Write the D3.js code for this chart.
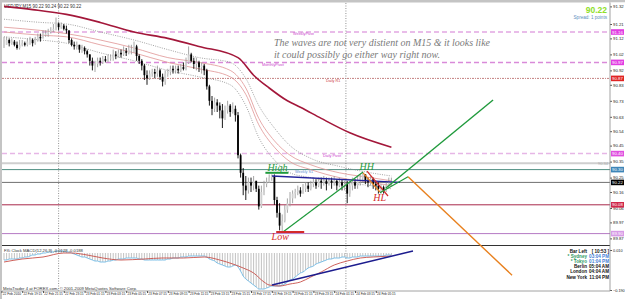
<!DOCTYPE html>
<html>
<head>
<meta charset="utf-8">
<title>USDJPY,M15</title>
<script src="https://d3js.org/d3.v7.min.js"></script>
<style>
  body { margin: 0; background: #fff; }
  svg { display: block; font-family: "Liberation Sans", "DejaVu Sans", sans-serif; }
</style>
</head>
<body>
<svg id="chart"></svg>
<script>
// ---- data ----
// M15 candles, the open of each bar is the close of the one before
var firstOpen = 91.07;
var closes = [
  91.08, 91.11, 91.09, 91.10, 91.08, 91.06, 91.08, 91.09, 91.08, 91.10,
  91.11, 91.09, 91.11, 91.13, 91.12, 91.14, 91.15, 91.16, 91.17, 91.18,
  91.21, 91.19, 91.20, 91.18, 91.17, 91.11, 91.08, 91.07, 91.08, 91.05,
  91.06, 91.04, 91.02, 90.98, 90.95, 90.96, 90.98, 90.97, 90.99, 90.98,
  91.00, 91.00, 91.02, 91.01, 91.03, 91.02, 91.04, 91.03, 91.05, 91.05,
  91.07, 91.01, 90.98, 90.95, 90.89, 90.87, 90.90, 90.91, 90.90, 90.92,
  90.88, 90.85, 90.90, 90.91, 90.93, 90.92, 90.93, 90.92, 90.94, 90.93,
  90.97, 91.02, 90.98, 90.96, 90.97, 90.94, 90.95, 90.92, 90.82, 90.73,
  90.68, 90.72, 90.70, 90.67, 90.62, 90.67, 90.70, 90.66, 90.68, 90.64,
  90.39, 90.28, 90.20, 90.17, 90.22, 90.20, 90.23, 90.18, 90.07, 90.16,
  90.21, 90.22, 90.25, 90.26, 90.11, 90.03, 89.95, 89.98, 90.05, 90.09,
  90.12, 90.15, 90.16, 90.17, 90.15, 90.18, 90.20, 90.18, 90.21, 90.22,
  90.20, 90.23, 90.22, 90.23, 90.21, 90.23, 90.22, 90.23, 90.20, 90.22,
  90.20, 90.21, 90.15, 90.20, 90.22, 90.20, 90.23, 90.25, 90.27, 90.23,
  90.22, 90.24, 90.21, 90.20, 90.18, 90.19, 90.17, 90.20, 90.22, 90.22
];
var highs = [
  91.13, 91.13, 91.12, 91.12, 91.11, 91.10, 91.11, 91.11, 91.10, 91.12,
  91.13, 91.12, 91.13, 91.15, 91.15, 91.17, 91.17, 91.18, 91.19, 91.21,
  91.25, 91.22, 91.22, 91.21, 91.20, 91.17, 91.12, 91.10, 91.10, 91.08,
  91.08, 91.07, 91.05, 91.02, 91.00, 90.98, 91.00, 91.00, 91.01, 91.01,
  91.02, 91.02, 91.05, 91.04, 91.05, 91.05, 91.07, 91.06, 91.08, 91.08,
  91.10, 91.08, 91.02, 90.99, 90.96, 90.92, 90.92, 90.93, 90.93, 90.95,
  90.93, 90.90, 90.92, 90.93, 90.95, 90.95, 90.95, 90.95, 90.96, 90.97,
  91.00, 91.07, 91.03, 91.00, 91.00, 90.98, 90.97, 90.96, 90.93, 90.83,
  90.76, 90.75, 90.74, 90.72, 90.71, 90.70, 90.73, 90.71, 90.72, 90.70,
  90.66, 90.40, 90.31, 90.26, 90.25, 90.25, 90.26, 90.23, 90.20, 90.20,
  90.23, 90.25, 90.27, 90.27, 90.27, 90.13, 90.09, 90.02, 90.08, 90.12,
  90.16, 90.17, 90.18, 90.20, 90.19, 90.21, 90.22, 90.22, 90.23, 90.25,
  90.24, 90.25, 90.25, 90.26, 90.25, 90.25, 90.25, 90.26, 90.24, 90.25,
  90.24, 90.23, 90.23, 90.23, 90.25, 90.24, 90.26, 90.27, 90.28, 90.27,
  90.25, 90.26, 90.25, 90.23, 90.22, 90.21, 90.20, 90.23, 90.25, 90.25
];
var lows = [
  91.06, 91.08, 91.07, 91.08, 91.07, 91.05, 91.05, 91.07, 91.07, 91.07,
  91.08, 91.07, 91.08, 91.10, 91.10, 91.12, 91.13, 91.13, 91.15, 91.16,
  91.17, 91.17, 91.18, 91.17, 91.15, 91.09, 91.07, 91.05, 91.05, 91.03,
  91.03, 91.02, 91.00, 90.95, 90.92, 90.91, 90.94, 90.95, 90.96, 90.97,
  90.97, 90.98, 90.98, 90.99, 91.00, 91.00, 91.01, 91.01, 91.02, 91.02,
  91.03, 90.98, 90.96, 90.92, 90.86, 90.83, 90.86, 90.88, 90.87, 90.88,
  90.86, 90.82, 90.83, 90.88, 90.89, 90.90, 90.90, 90.90, 90.91, 90.92,
  90.92, 90.96, 90.97, 90.93, 90.92, 90.91, 90.90, 90.89, 90.80, 90.70,
  90.64, 90.66, 90.66, 90.62, 90.56, 90.61, 90.65, 90.63, 90.65, 90.60,
  90.37, 90.25, 90.14, 90.11, 90.15, 90.16, 90.17, 90.16, 90.05, 90.06,
  90.14, 90.19, 90.22, 90.23, 90.08, 90.00, 89.92, 89.91, 89.97, 90.03,
  90.07, 90.09, 90.12, 90.14, 90.13, 90.15, 90.16, 90.16, 90.17, 90.19,
  90.18, 90.19, 90.18, 90.20, 90.17, 90.20, 90.18, 90.20, 90.17, 90.19,
  90.17, 90.17, 90.09, 90.13, 90.17, 90.18, 90.18, 90.20, 90.22, 90.21,
  90.19, 90.20, 90.18, 90.17, 90.15, 90.15, 90.15, 90.16, 90.18, 90.20
];

// MACD main value for every bar (histogram and blue line)
var macd = [
  -0.040, -0.040, -0.035, -0.035, -0.035, -0.035, -0.030, -0.030, -0.025, -0.025,
  -0.020, -0.015, -0.015, -0.010, -0.010, -0.005, -0.005, 0.000, 0.000, 0.000,
  0.005, 0.005, 0.005, 0.005, 0.000, 0.000, -0.005, -0.010, -0.015, -0.020,
  -0.025, -0.025, -0.030, -0.035, -0.040, -0.045, -0.045, -0.050, -0.050, -0.050,
  -0.045, -0.045, -0.040, -0.040, -0.035, -0.035, -0.035, -0.030, -0.030, -0.030,
  -0.030, -0.030, -0.035, -0.035, -0.040, -0.040, -0.040, -0.040, -0.040, -0.040,
  -0.040, -0.040, -0.040, -0.035, -0.035, -0.030, -0.030, -0.030, -0.025, -0.025,
  -0.025, -0.020, -0.020, -0.020, -0.020, -0.020, -0.020, -0.020, -0.025, -0.035,
  -0.040, -0.045, -0.055, -0.060, -0.065, -0.070, -0.075, -0.075, -0.070, -0.065,
  -0.075, -0.095, -0.120, -0.135, -0.145, -0.155, -0.165, -0.175, -0.185, -0.185,
  -0.185, -0.180, -0.175, -0.170, -0.170, -0.170, -0.170, -0.165, -0.160, -0.150,
  -0.140, -0.135, -0.125, -0.115, -0.105, -0.100, -0.090, -0.080, -0.075, -0.070,
  -0.060, -0.055, -0.050, -0.045, -0.040, -0.035, -0.035, -0.030, -0.030, -0.030,
  -0.025, -0.025, -0.030, -0.030, -0.025, -0.025, -0.025, -0.020, -0.020, -0.020,
  -0.020, -0.020, -0.020, -0.020, -0.020, -0.020, -0.020, -0.015, -0.015, -0.015
];
// signal line [bar, value]
var signal = [[0,-0.050],[7,-0.035],[15,-0.025],[23,-0.005],[26,-0.005],[32,-0.015],[38,-0.030],
  [45,-0.040],[54,-0.035],[61,-0.030],[69,-0.030],[77,-0.025],[83,-0.040],[88,-0.060],[92,-0.080],
  [96,-0.105],[100,-0.150],[102,-0.165],[106,-0.170],[110,-0.160],[114,-0.150],[118,-0.125],
  [122,-0.100],[127,-0.065],[132,-0.045],[137,-0.030],[142,-0.025],[149,-0.020]];

// moving averages [bar, price]
var maSlow = [[0,91.32],[11,91.30],[24,91.27],[37,91.22],[50,91.16],[63,91.12],[75,91.07],[90,91.00],
  [96,90.89],[102,90.81],[109,90.73],[114,90.69],[122,90.62],[133,90.53],[149,90.44]];
var envUpper = [[0,91.19],[14,91.17],[24,91.15],[37,91.11],[50,91.06],[63,91.00],[75,90.97],[87,90.92],
  [93,90.81],[98,90.62],[104,90.48],[110,90.39],[118,90.33],[129,90.28],[141,90.25],[149,90.23]];
var envLower = [[0,91.16],[14,91.14],[24,91.13],[37,91.08],[50,91.03],[63,90.97],[75,90.93],[87,90.88],
  [93,90.77],[98,90.58],[104,90.44],[110,90.35],[118,90.30],[129,90.25],[141,90.22],[149,90.20]];
var bandUpper = [[0,91.24],[14,91.22],[24,91.21],[37,91.16],[50,91.11],[63,91.05],[75,91.00],[87,90.97],
  [93,90.87],[98,90.70],[104,90.56],[110,90.45],[118,90.37],[129,90.32],[141,90.28],[149,90.26]];
var bandLower = [[0,91.13],[14,91.11],[24,91.09],[37,91.03],[50,90.98],[63,90.92],[75,90.88],[87,90.83],
  [93,90.70],[98,90.50],[104,90.36],[110,90.28],[118,90.25],[129,90.22],[141,90.20],[149,90.18]];

// horizontal levels
var levelPrices = [91.16, 90.97, 90.87, 90.40, 90.34, 90.30, 90.22, 90.08, 89.90];
var levelNames = ["WeeklyPivot", "MonthlyPivot", "Daily R1", "Daily Pivot", "", "Weekly S1", "", "", ""];

// drawn objects [bar, price]
var highLine = [[103.1, 90.26], [152.3, 90.22]];
var legUp = [[107.3, 89.91], [138.1, 90.285]];
var legDownOrange = [[138.1, 90.28], [144.6, 90.16]];
var legDownRed = [[139.6, 90.29], [147.7, 90.135]];
var legUpSmall = [[144.6, 90.155], [155.4, 90.255]];
var projDown = [[155.4, 90.255], [195.4, 89.64]];
var projUp = [[146.9, 90.185], [188.1, 90.735]];
var macdTrend = [[103.1, -0.165], [157.3, 0.005]];

var swingNames = ["High", "Low", "HH", "HL"];
var swingBars = [104, 107, 138, 146];
var swingPrices = [90.27, 89.91, 90.28, 90.15];

var separators = [21, 131.5];
var priceTicks = [91.32, 91.21, 91.12, 91.02, 90.92, 90.83, 90.73, 90.63, 90.54, 90.45, 90.35, 90.25, 90.16, 90.06, 89.97, 89.87];
var macdTicks = [0.010, -0.190];
var timeBars = [-1, 7, 15, 23, 31, 39, 47, 55, 63, 71, 79, 87, 95, 103, 111, 119, 127, 135, 143];
var timeLabels = ["22 Feb 2010", "22 Feb 19:15", "22 Feb 21:15", "22 Feb 23:15", "23 Feb 01:15", "23 Feb 03:15",
  "23 Feb 05:15", "23 Feb 07:15", "23 Feb 09:15", "23 Feb 11:15", "23 Feb 13:15", "23 Feb 15:15",
  "23 Feb 17:15", "23 Feb 19:15", "23 Feb 21:15", "23 Feb 23:15", "24 Feb 01:15", "24 Feb 03:15", "24 Feb 05:15"];

var clockNames = ["Bar Left", "* Sydney", "* Tokyo", "Berlin", "London", "New York"];
var clockTimes = ["[ 10:53 ]", "03:04 PM", "01:04 PM", "05:04 AM", "04:04 AM", "11:04 PM"];

// ---- layout ----
var width = 625, height = 299;
var plotR = 610;
var mainBot = 245.5, subTop = 247, subBot = 291;

var svg = d3.select('#chart').attr('width', width).attr('height', height);

var x = d3.scaleLinear().domain([0, 233]).range([4, 4 + 233 * 2.6]);
var y = d3.scaleLinear().domain([89.83, 91.36]).range([244.8, 0]);
var ym = d3.scaleLinear().domain([-0.19, 0.025]).range([290, 247]);

// frame
svg.append('rect').attr('width', width).attr('height', height).attr('fill', '#fff');
svg.append('rect').attr('x', 0).attr('y', 0).attr('width', width).attr('height', 2.5).attr('fill', '#c4c4c4');
svg.append('rect').attr('x', 0).attr('y', 0).attr('width', 2).attr('height', height).attr('fill', '#c4c4c4');

svg.append('text').attr('x', 4).attr('y', 7.5).attr('font-size', 4.5).attr('fill', '#333')
  .text('USDJPY,M15  90.22 90.24 90.22 90.22');

// horizontal levels
var levelStroke = ['#e2a6e2', '#d98ad9', '#c48080', '#e6b6e6', '#cfcfcf', '#4f8f82', '#6f6f6f', '#a8284a', '#b57ac4'];
var levelWidth = [1.5, 1.5, 1, 1.5, 2, 1, 1, 1, 1];
var levelDash = ['5,3', '5,3', '2,1,1,1', '5,3', null, null, null, null, null];
var levelBox = ['#e23ee2', '#e23ee2', '#e02424', '#e050e0', null, '#3e86b8', '#000000', '#d0284a', '#d79be6'];
var levelNameX = [293, 262, 326, 323, 0, 295, 0, 0, 0];
var levelNameColor = ['#cc44cc', '#cc44cc', '#d04040', '#cc44cc', '#000', '#5f8fd0', '#000', '#000', '#000'];

var lv = svg.append('g');
levelPrices.forEach(function (p, k) {
  lv.append('line').attr('x1', 2).attr('x2', plotR).attr('y1', y(p)).attr('y2', y(p))
    .attr('stroke', levelStroke[k]).attr('stroke-width', levelWidth[k])
    .attr('stroke-dasharray', levelDash[k]);
  if (levelNames[k]) {
    lv.append('text').attr('x', levelNameX[k]).attr('y', y(p) + 3.2)
      .attr('font-size', 3.8).attr('fill', levelNameColor[k]).text(levelNames[k]);
  }
});
lv.append('text').attr('x', 608).attr('y', y(90.34) + 1.6).attr('text-anchor', 'end')
  .attr('font-size', 4).attr('fill', '#aaa').text('90.34');

// separators
separators.forEach(function (b) {
  svg.append('line').attr('x1', x(b)).attr('x2', x(b)).attr('y1', 3).attr('y2', subBot)
    .attr('stroke', '#777').attr('stroke-width', 0.8).attr('stroke-dasharray', '1,1.5');
});

// moving averages
var maLine = d3.line().x(function (d) { return x(d[0]); }).y(function (d) { return y(d[1]); })
  .curve(d3.curveMonotoneX);
var mg = svg.append('g').attr('fill', 'none');
mg.append('path').attr('d', maLine(bandUpper)).attr('stroke', '#8a8a8a').attr('stroke-width', 0.8).attr('stroke-dasharray', '1,1.3');
mg.append('path').attr('d', maLine(bandLower)).attr('stroke', '#8a8a8a').attr('stroke-width', 0.8).attr('stroke-dasharray', '1,1.3');
mg.append('path').attr('d', maLine(envUpper)).attr('stroke', '#e09494').attr('stroke-width', 0.8);
mg.append('path').attr('d', maLine(envLower)).attr('stroke', '#e09494').attr('stroke-width', 0.8);
mg.append('path').attr('d', maLine(maSlow)).attr('stroke', '#a3173a').attr('stroke-width', 1.6);

// candles
var bars = closes.map(function (c, i) {
  return { i: i, o: i ? closes[i - 1] : firstOpen, h: highs[i], l: lows[i], c: c };
});
var cg = svg.append('g');
cg.selectAll('line').data(bars).enter().append('line')
  .attr('x1', function (d) { return x(d.i); }).attr('x2', function (d) { return x(d.i); })
  .attr('y1', function (d) { return y(d.h); }).attr('y2', function (d) { return y(d.l); })
  .attr('stroke', function (d) { return d.c < d.o ? '#000' : '#9c9c9c'; })
  .attr('stroke-width', 0.9);
cg.selectAll('rect').data(bars).enter().append('rect')
  .attr('x', function (d) { return x(d.i) - 0.9; }).attr('width', 1.8)
  .attr('y', function (d) { return y(Math.max(d.o, d.c)); })
  .attr('height', function (d) { return Math.max(0.8, Math.abs(y(d.o) - y(d.c))); })
  .attr('fill', function (d) { return d.c < d.o ? '#000' : '#cfcfcf'; });

// main / sub window divider
svg.append('line').attr('x1', 2).attr('x2', plotR).attr('y1', mainBot).attr('y2', mainBot)
  .attr('stroke', '#333').attr('stroke-width', 1.2);

// MACD window
var zeroY = ym(0) + 1;
var hg = svg.append('g');
hg.selectAll('line').data(macd).enter().append('line')
  .attr('x1', function (d, i) { return x(i); }).attr('x2', function (d, i) { return x(i); })
  .attr('y1', zeroY).attr('y2', function (d) { return ym(d); })
  .attr('stroke', '#a8a8a8').attr('stroke-width', 0.7);
var macdLine = d3.line().x(function (d, i) { return x(i); }).y(function (d) { return ym(d); })
  .curve(d3.curveMonotoneX);
var sigLine = d3.line().x(function (d) { return x(d[0]); }).y(function (d) { return ym(d[1]); })
  .curve(d3.curveMonotoneX);
svg.append('path').attr('d', macdLine(macd)).attr('fill', 'none').attr('stroke', '#7cc0e8').attr('stroke-width', 1);
svg.append('path').attr('d', sigLine(signal)).attr('fill', 'none').attr('stroke', '#c8504a').attr('stroke-width', 0.9);
svg.append('line')
  .attr('x1', x(macdTrend[0][0])).attr('y1', ym(macdTrend[0][1]))
  .attr('x2', x(macdTrend[1][0])).attr('y2', ym(macdTrend[1][1]))
  .attr('stroke', '#1c1c8e').attr('stroke-width', 1.5);

svg.append('text').attr('x', 4).attr('y', 252).attr('font-size', 4.2).attr('fill', '#333')
  .text('FXi Clock     MACD(12,26,9) -0.0128 -0.0188');
svg.append('text').attr('x', 3).attr('y', 289.5).attr('font-size', 4.2).attr('fill', '#333')
  .text('MetaTrader 4 at FOREX.com, \u00a9 2001-2009 MetaQuotes Software Corp.');

// clock panel
var nameColor = ['#111', '#2f9a62', '#2f9a62', '#111', '#111', '#111'];
var timeColor = ['#111', '#3f7fd6', '#3f7fd6', '#111', '#111', '#111'];
clockNames.forEach(function (n, k) {
  var yy = 252.6 + k * 5.2;
  svg.append('text').attr('x', 587).attr('y', yy).attr('text-anchor', 'end')
    .attr('font-size', 4.6).attr('font-weight', 'bold').attr('fill', nameColor[k]).text(n);
  svg.append('text').attr('x', 609).attr('y', yy).attr('text-anchor', 'end')
    .attr('font-size', 4.6).attr('font-weight', 'bold').attr('fill', timeColor[k]).text(clockTimes[k]);
});

// drawn trend objects (not clipped, the projection runs into the MACD window)
function seg(pts, color, w) {
  svg.append('line')
    .attr('x1', x(pts[0][0])).attr('y1', y(pts[0][1]))
    .attr('x2', x(pts[1][0])).attr('y2', y(pts[1][1]))
    .attr('stroke', color).attr('stroke-width', w);
}
seg(highLine, '#23239a', 1.3);
seg(legUp, '#1f9a3c', 1.2);
seg(legDownOrange, '#e8801e', 1.2);
seg(legDownRed, '#d42a2a', 1.2);
seg(legUpSmall, '#1f9a3c', 1.2);
seg(projUp, '#1f9a3c', 1.4);
seg(projDown, '#e8801e', 1.4);

// swing labels
var swingColor = ['#1f9a3c', '#d42a2a', '#1f9a3c', '#d42a2a'];
var swingDx = [3, -2, 4, -4];
var swingDy = [-3.4, 8, -3, 7];
var sg = svg.append('g').attr('font-family', '"Liberation Serif", "DejaVu Serif", serif')
  .attr('font-style', 'italic').attr('font-size', 10).attr('text-anchor', 'middle');
swingNames.forEach(function (n, k) {
  sg.append('text').attr('x', x(swingBars[k]) + swingDx[k]).attr('y', y(swingPrices[k]) + swingDy[k])
    .attr('fill', swingColor[k]).text(n);
});
// marker bars under "High" and over "Low"
svg.append('line').attr('x1', x(swingBars[0]) - 9).attr('x2', x(swingBars[0]) + 14)
  .attr('y1', y(swingPrices[0]) - 1.6).attr('y2', y(swingPrices[0]) - 1.6)
  .attr('stroke', '#1f9a3c').attr('stroke-width', 2);
svg.append('line').attr('x1', x(swingBars[1]) - 6).attr('x2', x(swingBars[1]) + 22)
  .attr('y1', y(swingPrices[1])).attr('y2', y(swingPrices[1]))
  .attr('stroke', '#d42a2a').attr('stroke-width', 2);

// comment
var note = svg.append('g').attr('font-family', '"Liberation Serif", "DejaVu Serif", serif')
  .attr('font-style', 'italic').attr('font-size', 10.5).attr('fill', '#7a7a7a');
note.append('text').attr('x', 274).attr('y', 46).attr('textLength', 216).attr('lengthAdjust', 'spacingAndGlyphs')
  .text('The waves are not very distient on M15 & it looks like');
note.append('text').attr('x', 274).attr('y', 57.5).attr('textLength', 166).attr('lengthAdjust', 'spacingAndGlyphs')
  .text('it could possibly go either way right now.');

// top-right price
svg.append('text').attr('x', 607).attr('y', 13).attr('text-anchor', 'end')
  .attr('font-size', 8.5).attr('font-weight', 'bold').attr('fill', '#8fe02a').text('90.22');
svg.append('text').attr('x', 607).attr('y', 18.5).attr('text-anchor', 'end')
  .attr('font-size', 4.6).attr('fill', '#5b8fc0').text('Spread: 1 points');

// price axis
svg.append('rect').attr('x', plotR).attr('y', 2.5).attr('width', width - plotR).attr('height', height - 2.5).attr('fill', '#fff');
var ay = svg.append('g').attr('transform', 'translate(' + plotR + ',0)')
  .call(d3.axisRight(y).tickValues(priceTicks).tickSize(2).tickPadding(1).tickFormat(d3.format('.2f')));
ay.select('.domain').remove();
ay.selectAll('text').attr('font-size', 4.3).attr('fill', '#222');
ay.selectAll('line').attr('stroke', '#555');

var am = svg.append('g').attr('transform', 'translate(' + plotR + ',0)')
  .call(d3.axisRight(ym).tickValues(macdTicks).tickSize(2).tickPadding(1).tickFormat(d3.format('.3f')));
am.select('.domain').remove();
am.selectAll('text').attr('font-size', 3.8).attr('fill', '#222');
am.selectAll('line').attr('stroke', '#555');

svg.append('line').attr('x1', plotR).attr('x2', plotR).attr('y1', 2.5).attr('y2', subBot)
  .attr('stroke', '#8a8a8a').attr('stroke-width', 0.8);

// level boxes on the axis
levelPrices.forEach(function (p, k) {
  if (!levelBox[k]) return;
  svg.append('rect').attr('x', plotR + 1).attr('y', y(p) - 2.8).attr('width', 13).attr('height', 5.6)
    .attr('fill', levelBox[k]);
  svg.append('text').attr('x', plotR + 7.5).attr('y', y(p) + 1.6).attr('text-anchor', 'middle')
    .attr('font-size', 4.3).attr('fill', '#fff').text(d3.format('.2f')(p));
});

// time axis
svg.append('line').attr('x1', 2).attr('x2', plotR).attr('y1', subBot).attr('y2', subBot)
  .attr('stroke', '#8a8a8a').attr('stroke-width', 0.8);
var ax = svg.append('g').attr('transform', 'translate(0,' + subBot + ')')
  .call(d3.axisBottom(x).tickValues(timeBars).tickSize(2).tickPadding(0)
    .tickFormat(function (d, k) { return timeLabels[k]; }));
ax.select('.domain').remove();
ax.selectAll('line').attr('stroke', '#555');
ax.selectAll('text').attr('font-size', 3.8).attr('fill', '#222')
  .attr('text-anchor', 'start').attr('dx', 0.8).attr('dy', '0.6em')
  .attr('textLength', 18.5).attr('lengthAdjust', 'spacingAndGlyphs');
</script>
</body>
</html>
